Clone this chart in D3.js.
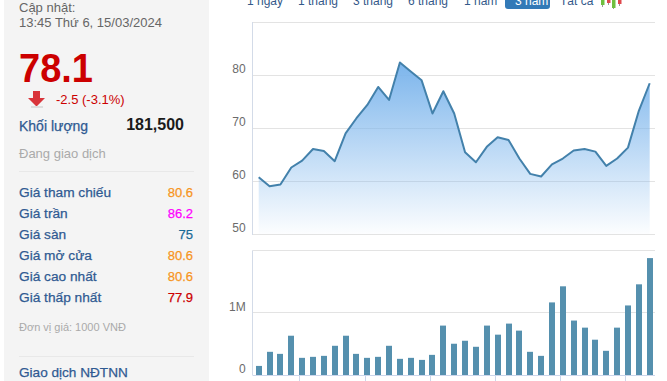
<!DOCTYPE html>
<html><head><meta charset="utf-8">
<script src="https://cdn.jsdelivr.net/npm/d3@7/dist/d3.min.js"></script>
<style>
html,body{margin:0;padding:0;background:#fff;overflow:hidden}
svg{display:block;font-family:"Liberation Sans",Arial,sans-serif}
</style></head><body>
<svg id="c" width="667" height="381"></svg>
<script>
const priceValues=[60.75,59.05,59.4,62.6,63.9,66.1,65.7,63.8,69.05,71.9,74.4,77.8,75.35,82.4,80.7,79.05,72.8,77.0,72.8,65.5,63.6,66.5,68.3,67.8,64.3,61.4,60.9,63.2,64.3,65.8,66.1,65.6,62.9,64.3,66.35,73.3,78.5];
const volumeValues=[0.146,0.373,0.34,0.632,0.276,0.292,0.308,0.47,0.632,0.34,0.276,0.292,0.47,0.26,0.276,0.243,0.324,0.795,0.503,0.551,0.454,0.795,0.649,0.827,0.714,0.373,0.308,1.168,1.427,0.876,0.762,0.568,0.389,0.762,1.119,1.459,1.881];
const priceTicks=[50,60,70,80,90];
const volumeTicks=[0,1,2];
const volumeLabels={0:"0",1:"1M"};
const xTickIndex=[4,10,16,22,28,34];
const tabs=[["1 ngày",247],["1 tháng",298],["3 tháng",353],["6 tháng",408],["1 năm",464],["3 năm",515],["Tất cả",560]];
const infoRows=[["Giá tham chiếu","80.6","#f7941d"],["Giá trần","86.2","#f0f"],["Giá sàn","75","#1a6a96"],["Giá mở cửa","80.6","#f7941d"],["Giá cao nhất","80.6","#f7941d"],["Giá thấp nhất","77.9","#c00"]];

const svg=d3.select("#c");
const L=252.5,R=655;
const x=d3.scaleLinear().domain([0,priceValues.length-1]).range([258.7,649.7]);
const yP=d3.scaleLinear().domain([50,90]).range([234.3,22.3]);
const yV=d3.scaleLinear().domain([0,2]).range([375,250.7]);
const defs=svg.append("defs");
const g=defs.append("linearGradient").attr("id","grad").attr("x1",0).attr("x2",0).attr("y1",0).attr("y2",1);
g.append("stop").attr("offset",0).attr("stop-color","#7cb5ec");
g.append("stop").attr("offset",1).attr("stop-color","#7cb5ec").attr("stop-opacity",0.02);

// left panel
svg.append("rect").attr("x",4).attr("y",0).attr("width",205).attr("height",381).attr("fill","#f4f4f4");
const T=(s,px,py,size,col,o={})=>svg.append("text").attr("x",px).attr("y",py).attr("font-size",size).attr("fill",col)
  .attr("font-weight",o.w||"normal").attr("text-anchor",o.a||"start").text(s);
T("Cập nhật:",19,12,13,"#666");
T("13:45 Thứ 6, 15/03/2024",19,27,13,"#666");
T("78.1",19,81.5,41,"#c00",{w:"bold"}).attr("textLength",74).attr("lengthAdjust","spacingAndGlyphs");
svg.append("path").attr("d","M33 91h7v7h5l-8.5 8.5l-8.5-8.5h5z").attr("fill","#d9343a");
svg.append("rect").attr("x",31).attr("y",106).attr("width",12).attr("height",2).attr("fill","#ddd");
T("-2.5 (-3.1%)",56,104,13,"#c00");
T("Khối lượng",19,131,14,"#2f5a92").attr("stroke","#2f5a92").attr("stroke-width",0.25);
T("181,500",184,130,16,"#1a1a1a",{w:"bold",a:"end"});
T("Đang giao dịch",19,158,13,"#aaa");
svg.append("line").attr("x1",19).attr("x2",194).attr("y1",171.5).attr("y2",171.5).attr("stroke","#e8e8e8");
const rowY=d3.scaleLinear().domain([0,5]).range([197,302]);
infoRows.forEach((r,i)=>{
  T(r[0],19,rowY(i),13.7,"#2f5a92").attr("stroke","#2f5a92").attr("stroke-width",0.25);
  T(r[1],193,rowY(i),13,r[2],{a:"end"}).attr("stroke",r[2]).attr("stroke-width",0.25);
});
T("Đơn vị giá: 1000 VNĐ",19,331,11,"#aaa");
svg.append("line").attr("x1",19).attr("x2",194).attr("y1",356.5).attr("y2",356.5).attr("stroke","#e8e8e8");
T("Giao dịch NĐTNN",19,377,13.6,"#2f5a92").attr("stroke","#2f5a92").attr("stroke-width",0.25);

// tabs
svg.append("path").attr("d","M505 0H550V6a3 3 0 0 1-3 3H508a3 3 0 0 1-3-3z").attr("fill","#337ab7");
tabs.forEach(t=>T(t[0],t[1],5,12,t[0]==="3 năm"?"#fff":"#34598a"));
[[601,5,7,"#6fbf3f"],[607,3,5,"#e0484d"],[612,8,9,"#6fbf3f"],[618,4,6,"#e0484d"]].forEach(c=>{
  svg.append("line").attr("x1",c[0]+1.5).attr("x2",c[0]+1.5).attr("y1",0).attr("y2",c[2]).attr("stroke","#999").attr("stroke-width",1);
  svg.append("rect").attr("x",c[0]).attr("y",0).attr("width",3.5).attr("height",c[1]).attr("fill",c[3]);
});

// price grid
const grid="#e3e3e3";
svg.append("g").selectAll("line").data(priceTicks).join("line")
 .attr("x1",L).attr("x2",R).attr("y1",d=>Math.floor(yP(d))+.5).attr("y2",d=>Math.floor(yP(d))+.5).attr("stroke",grid);
// area and line
svg.append("path").datum(priceValues).attr("fill","url(#grad)")
 .attr("d",d3.area().x((d,i)=>x(i)).y0(yP(50)).y1(d=>yP(d)));
svg.append("path").datum(priceValues).attr("fill","none").attr("stroke","#4381ab").attr("stroke-width",2).attr("stroke-linejoin","round")
 .attr("d",d3.line().x((d,i)=>x(i)).y(d=>yP(d)));
svg.append("line").attr("x1",L).attr("x2",L).attr("y1",22).attr("y2",235).attr("stroke","#d3dbe8");
priceTicks.slice(0,4).forEach(v=>T(String(v),245.7,yP(v)-2.6,12,"#6b6b6b",{a:"end"}));

// volume
svg.append("g").selectAll("line").data(volumeTicks.slice(1)).join("line")
 .attr("x1",L).attr("x2",R).attr("y1",d=>Math.floor(yV(d))+.5).attr("y2",d=>Math.floor(yV(d))+.5).attr("stroke",grid);
svg.append("g").selectAll("rect").data(volumeValues).join("rect")
 .attr("x",(d,i)=>Math.round(x(i)-3)).attr("width",6)
 .attr("y",d=>yV(d)).attr("height",d=>yV(0)-yV(d)).attr("fill","#5590ae");
svg.append("line").attr("x1",L).attr("x2",L).attr("y1",250.5).attr("y2",375).attr("stroke","#d3dbe8");
svg.append("line").attr("x1",L).attr("x2",R).attr("y1",375.5).attr("y2",375.5).attr("stroke","#ccd6eb");
svg.append("g").selectAll("line").data(xTickIndex).join("line")
 .attr("x1",d=>Math.round(x(d)-2.7)+.5).attr("x2",d=>Math.round(x(d)-2.7)+.5).attr("y1",376).attr("y2",381).attr("stroke","#ccd6eb");
volumeTicks.slice(0,2).forEach(v=>T(volumeLabels[v],245.7,v?311:373,12,"#6b6b6b",{a:"end"}));
</script>
</body></html>
